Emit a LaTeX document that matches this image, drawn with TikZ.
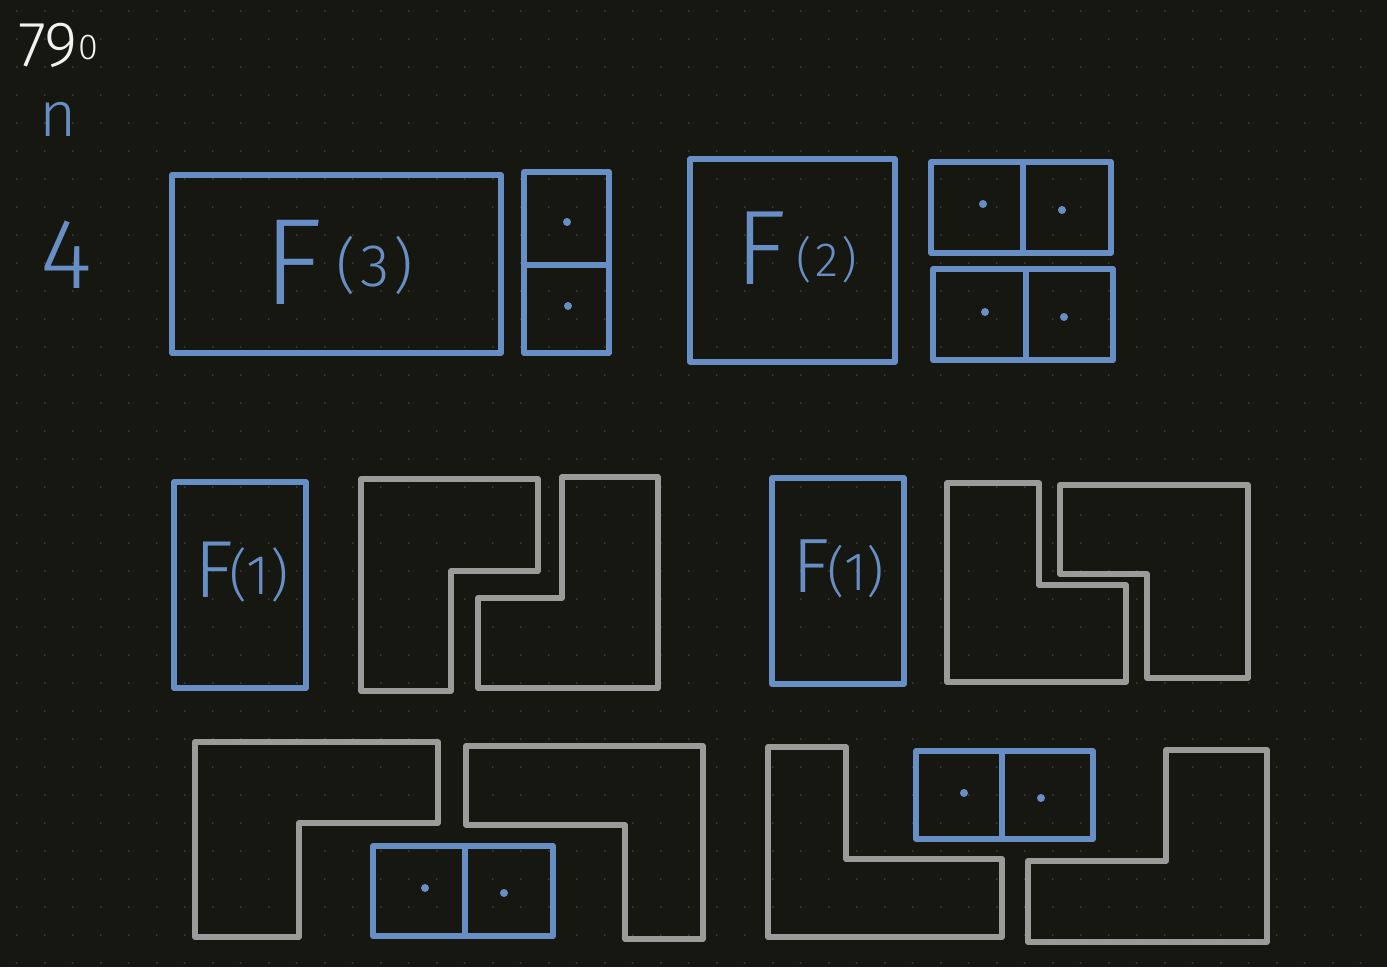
\documentclass[tikz,border=0pt]{standalone}
\usepackage{fontspec}
\newfontfamily\hand{Fira Sans Light}
\definecolor{bg}{RGB}{23,23,18}
\definecolor{griddot}{RGB}{58,58,53}
\definecolor{inkblue}{RGB}{104,143,197}
\definecolor{inkgray}{RGB}{155,155,153}
\definecolor{inkwhite}{RGB}{242,242,240}
\tikzset{
  bluebox/.style={draw=inkblue, line width=5.8pt, line join=round, line cap=round},
  grayshape/.style={draw=inkgray, line width=5.4pt, line join=round, line cap=round},
  pip/.style={fill=inkblue, draw=none},
  handtext/.style={inner sep=0pt, outer sep=0pt, anchor=center, text=inkblue},
}
\newcommand{\hs}[1]{\hand\fontsize{#1}{#1}\selectfont}
\begin{document}
\begin{tikzpicture}[x=1pt,y=-1pt]
\fill[bg] (0,0) rectangle (1387,967);
\useasboundingbox (0,0) rectangle (1387,967);
% dot grid
\foreach \i in {0,...,49}{
  \foreach \j in {0,...,34}{
    \fill[griddot] ({16.7+28*\i},{11+28*\j}) circle (1.1pt);
  }
}
% left margin labels
\node[handtext, text=inkwhite] (sevnine) at (48,45) {\hs{64}79};
\node[handtext, text=inkwhite] (zero) at (88,48) {\hs{36}0};
\node[handtext] (nlabel) at (58,119) {\hs{64}n};
\node[handtext] (four) at (66,255) {\hs{100}4};

% ---- Row 1: F(3) and vertical domino
\draw[bluebox] (172,175) rectangle (501,353);
\node[handtext] (f3F) at (293,262) {\hs{123}F};
\node[handtext] (f3n) at (375,265) {\hs{60}(\kern4pt3\kern4pt)};
\draw[bluebox] (524,172) rectangle (609,353);
\draw[bluebox] (524,265) -- (609,265);
\fill[pip] (567,222) circle (4pt);
\fill[pip] (568,306) circle (4pt);

% ---- Row 1: F(2) and two horizontal dominoes
\draw[bluebox] (690,159) rectangle (895,362);
\node[handtext] (f2F) at (761,248) {\hs{106}F};
\node[handtext] (f2n) at (827,260) {\hs{48}(\kern3pt2\kern3pt)};
\draw[bluebox] (931,162) rectangle (1111,253);
\draw[bluebox] (1023,162) -- (1023,253);
\fill[pip] (983,204) circle (4pt);
\fill[pip] (1062,210) circle (4pt);
\draw[bluebox] (933,269) rectangle (1113,360);
\draw[bluebox] (1026,269) -- (1026,360);
\fill[pip] (985,312) circle (4pt);
\fill[pip] (1064,317) circle (4pt);

% ---- Row 2 left: F(1) and two L-trominoes
\draw[bluebox] (174,482) rectangle (306,688);
\node[handtext] (f1aF) at (214,570) {\hs{81}F};
\node[handtext] (f1an) at (259,575) {\hs{56}(1)};
\draw[grayshape] (361,479) -- (538,479) -- (538,571) -- (451,571) -- (451,691) -- (361,691) -- cycle;
\draw[grayshape] (562,477) -- (658,477) -- (658,688) -- (478,688) -- (478,598) -- (562,598) -- cycle;

% ---- Row 2 right: F(1) and two L-trominoes
\draw[bluebox] (772,478) rectangle (904,684);
\node[handtext] (f1bF) at (811,566) {\hs{77}F};
\node[handtext] (f1bn) at (856,572) {\hs{54}(1)};
\draw[grayshape] (947,483) -- (1039,483) -- (1039,585) -- (1126,585) -- (1126,682) -- (947,682) -- cycle;
\draw[grayshape] (1060,485) -- (1248,485) -- (1248,678) -- (1147,678) -- (1147,574) -- (1060,574) -- cycle;

% ---- Row 3 left
\draw[grayshape] (195,742) -- (438,742) -- (438,823) -- (299,823) -- (299,937) -- (195,937) -- cycle;
\draw[grayshape] (466,746) -- (703,746) -- (703,939) -- (625,939) -- (625,825) -- (466,825) -- cycle;
\draw[bluebox] (373,846) rectangle (553,936);
\draw[bluebox] (465,846) -- (465,936);
\fill[pip] (425,888) circle (4pt);
\fill[pip] (504,893) circle (4pt);

% ---- Row 3 right
\draw[grayshape] (768,747) -- (846,747) -- (846,859) -- (1002,859) -- (1002,937) -- (768,937) -- cycle;
\draw[grayshape] (1028,861) -- (1166,861) -- (1166,750) -- (1267,750) -- (1267,942) -- (1028,942) -- cycle;
\draw[bluebox] (916,751) rectangle (1093,839);
\draw[bluebox] (1002,751) -- (1002,839);
\fill[pip] (964,793) circle (4pt);
\fill[pip] (1041,798) circle (4pt);
\end{tikzpicture}
\end{document}
